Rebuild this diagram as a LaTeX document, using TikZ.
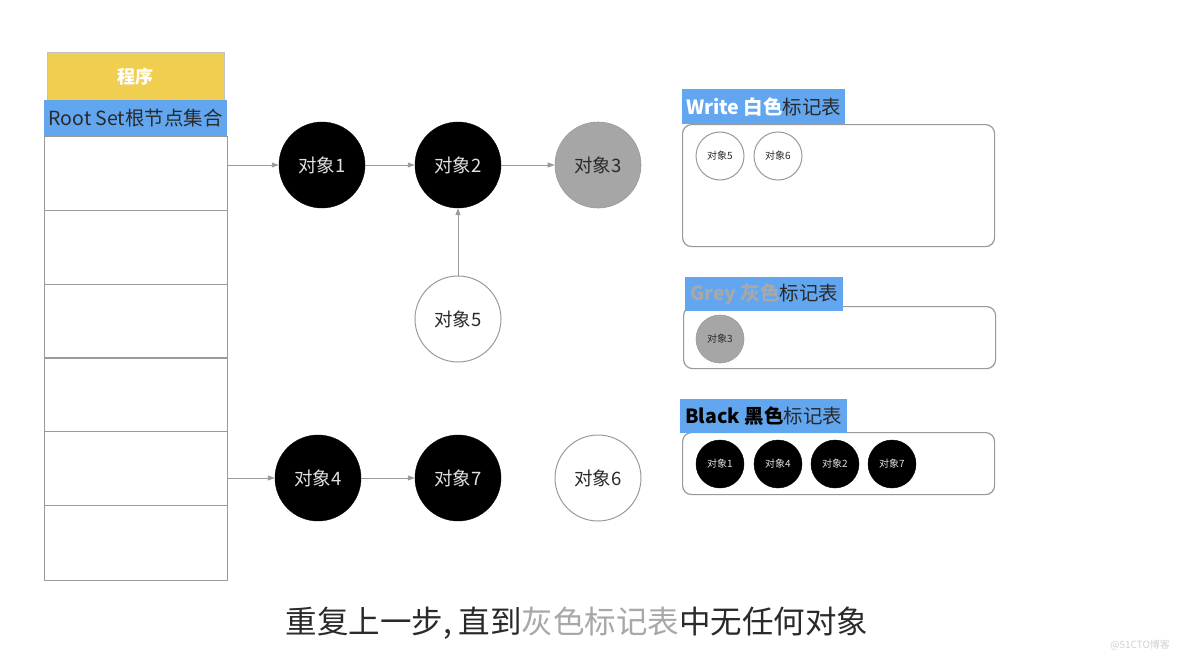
\documentclass[tikz,border=0pt]{standalone}
\usepackage{fontspec}
\setmainfont{Noto Sans CJK SC}
\newfontfamily\cjk{Noto Sans CJK SC}
\usetikzlibrary{arrows.meta}
\definecolor{ygold}{HTML}{F0CF50}
\definecolor{lblue}{HTML}{62A6F0}
\definecolor{bord}{HTML}{9A9A9A}
\definecolor{gfill}{HTML}{A6A6A6}
\definecolor{txt}{HTML}{2A2A2A}
\definecolor{greytxt}{HTML}{A8A8A8}
\tikzset{
  big/.style={circle, minimum size=86pt, inner sep=0pt, font=\fontsize{18.5}{20}\selectfont},
  small/.style={circle, minimum size=48pt, inner sep=0pt, font=\fontsize{10}{12}\selectfont},
  blk/.style={fill=black, draw=black, text=white!88!black},
  wht/.style={fill=white, draw=bord, line width=1pt, text=txt},
  gry/.style={fill=gfill, draw=bord, line width=0.6pt, text=txt},
  row/.style={draw=bord, line width=1.3pt, minimum width=183pt, minimum height=74pt, inner sep=0pt, anchor=north west},
  conn/.style={draw=bord, line width=1pt, -{Triangle[length=7pt,width=5pt]}},
  tablebox/.style={draw=bord, line width=1.2pt, rounded corners=9pt, anchor=north west, inner sep=0pt},
  lbl/.style={fill=lblue, anchor=north west, inner sep=0pt, font=\fontsize{19.5}{22}\selectfont, text=txt},
}
\begin{document}
\begin{tikzpicture}[x=1pt,y=-1pt]
\useasboundingbox (0,0) rectangle (1184,661);
\fill[white] (0,0) rectangle (1184,661);
% left column
\node[fill=ygold, draw=bord!60, line width=0.6pt, anchor=north west, minimum width=177pt, minimum height=48pt, inner sep=0pt, text=white, font=\bfseries\fontsize{18}{20}\selectfont] (prog) at (47,52) {程序};
\node[fill=lblue, anchor=north west, minimum width=183pt, minimum height=36pt, inner sep=0pt, text=txt, font=\fontsize{19.5}{21}\selectfont] (root) at (44,100) {Root Set根节点集合};
\node[row] (r1) at (44,136) {};
\node[row] (r2) at (44,210) {};
\node[row] (r3) at (44,284) {};
\node[row] (r4) at (44,357) {};
\node[row] (r5) at (44,431) {};
\node[row, minimum height=75pt] (r6) at (44,505) {};
% object graph
\node[big, blk] (o1) at (322,165) {对象1};
\node[big, blk] (o2) at (458,165) {对象2};
\node[big, gry] (o3) at (598,165) {对象3};
\node[big, wht] (o5) at (458,319) {对象5};
\node[big, blk] (o4) at (318,478) {对象4};
\node[big, blk] (o7) at (458,478) {对象7};
\node[big, wht] (o6) at (598,478) {对象6};
\draw[conn] (r1.east |- o1) -- (o1);
\draw[conn] (o1) -- (o2);
\draw[conn] (o2) -- (o3);
\draw[conn] (o5) -- (o2);
\draw[conn] (r5.east |- o4) -- (o4);
\draw[conn] (o4) -- (o7);
% white table
\node[tablebox, minimum width=312pt, minimum height=122pt] (wbox) at (682,124) {};
\node[lbl, minimum width=163pt, minimum height=35pt] (wlbl) at (682,89) {\textcolor{white}{\bfseries Write 白色}标记表};
\node[small, wht] (w5) at (720,156) {对象5};
\node[small, wht] (w6) at (778,156) {对象6};
% grey table
\node[tablebox, minimum width=312pt, minimum height=62pt] (gbox) at (683,306) {};
\node[lbl, minimum width=158pt, minimum height=34pt] (glbl) at (685,277) {\textcolor{greytxt}{\bfseries Grey 灰色}标记表};
\node[small, gry] (g3) at (720,339) {对象3};
% black table
\node[tablebox, minimum width=312pt, minimum height=62pt] (bbox) at (682,432) {};
\node[lbl, minimum width=167pt, minimum height=34pt] (blbl) at (680,399) {\textcolor{black}{\bfseries Black 黑色}标记表};
\node[small, blk] (b1) at (720,464) {对象1};
\node[small, blk] (b4) at (778,464) {对象4};
\node[small, blk] (b2) at (835,464) {对象2};
\node[small, blk] (b7) at (892,464) {对象7};
% caption
\node[font=\fontsize{31.5}{34}\selectfont, text=txt] (cap) at (577,623) {重复上一步, 直到\textcolor{greytxt}{灰色标记表}中无任何对象};
\node[font=\fontsize{10}{12}\selectfont, text=black!18] (wm) at (1140,645) {@51CTO博客};
\end{tikzpicture}
\end{document}
